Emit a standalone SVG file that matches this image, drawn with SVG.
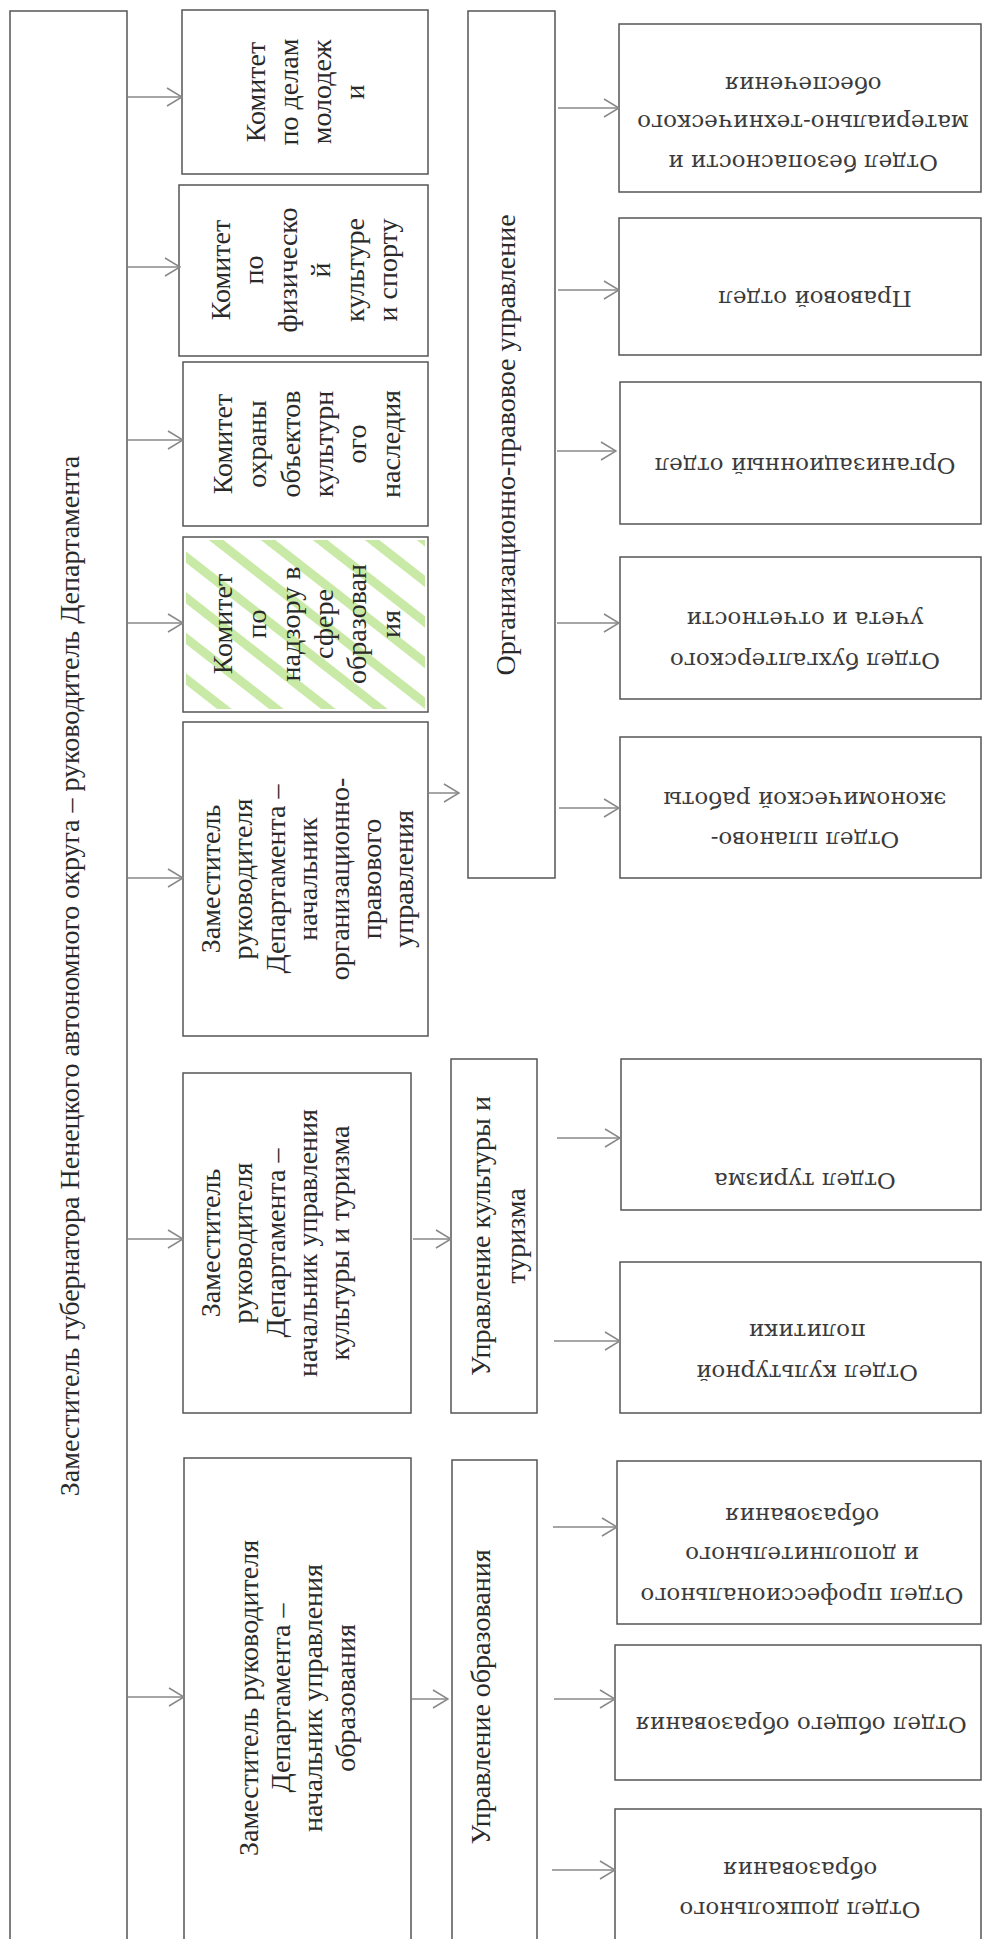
<svg xmlns="http://www.w3.org/2000/svg" width="983" height="1939" viewBox="0 0 983 1939">
<style>
.box{fill:#fff;stroke:#555;stroke-width:1.5}
.t{font-family:"Liberation Serif","Times New Roman",serif;font-size:28px;fill:#2a2a2a;text-anchor:middle}
.r{font-family:"DejaVu Serif",serif;font-size:23px;fill:#3a3a3a;text-anchor:middle}
.c{stroke:#888;stroke-width:1.5;fill:none;marker-end:url(#ah)}
</style>
<defs>
<marker id="ah" viewBox="0 0 17 20" refX="16" refY="10" markerWidth="17" markerHeight="20" orient="auto" markerUnits="userSpaceOnUse">
<path d="M1,1 L16,10 L1,19" fill="none" stroke="#888" stroke-width="1.5"/>
</marker>
<pattern id="hatch" patternUnits="userSpaceOnUse" width="40" height="32" patternTransform="rotate(38)">
<rect x="0" y="0" width="40" height="9" fill="#bfe697" opacity="0.85"/>
</pattern>
</defs>
<rect width="983" height="1939" fill="#fff"/>

<g id="n-head">
<rect class="box" x="10" y="11" width="117" height="1935"/>
<text class="t" font-size="30.5" transform="translate(79,976) rotate(-90)">Заместитель губернатора Ненецкого автономного округа – руководитель Департамента</text>
</g>

<g id="n-youth">
<rect class="box" x="182" y="10" width="246" height="164"/>
<g class="t" transform="translate(0,92)">
<text transform="translate(265,0) rotate(-90)">Комитет</text>
<text transform="translate(298,0) rotate(-90)">по делам</text>
<text transform="translate(331,0) rotate(-90)">молодеж</text>
<text transform="translate(364,0) rotate(-90)">и</text>
</g>
</g>

<g id="n-sport">
<rect class="box" x="179" y="185" width="249" height="171"/>
<g class="t" transform="translate(0,270)">
<text transform="translate(230,0) rotate(-90)">Комитет</text>
<text transform="translate(263,0) rotate(-90)">по</text>
<text transform="translate(297,0) rotate(-90)">физическо</text>
<text transform="translate(330,0) rotate(-90)">й</text>
<text transform="translate(364,0) rotate(-90)">культуре</text>
<text transform="translate(397,0) rotate(-90)">и спорту</text>
</g>
</g>

<g id="n-heritage">
<rect class="box" x="183" y="362" width="245" height="164"/>
<g class="t" transform="translate(0,444)">
<text transform="translate(232,0) rotate(-90)">Комитет</text>
<text transform="translate(266,0) rotate(-90)">охраны</text>
<text transform="translate(300,0) rotate(-90)">объектов</text>
<text transform="translate(333,0) rotate(-90)">культурн</text>
<text transform="translate(366,0) rotate(-90)">ого</text>
<text transform="translate(400,0) rotate(-90)">наследия</text>
</g>
</g>

<g id="n-supervision">
<rect class="box" x="183" y="537" width="245" height="175"/>
<rect x="186" y="540" width="239" height="169" fill="url(#hatch)"/>
<g class="t" transform="translate(0,624)">
<text transform="translate(232,0) rotate(-90)">Комитет</text>
<text transform="translate(266,0) rotate(-90)">по</text>
<text transform="translate(300,0) rotate(-90)">надзору в</text>
<text transform="translate(333,0) rotate(-90)">сфере</text>
<text transform="translate(366,0) rotate(-90)">образован</text>
<text transform="translate(400,0) rotate(-90)">ия</text>
</g>
</g>

<g id="n-dep-org">
<rect class="box" x="183" y="722" width="245" height="314"/>
<g class="t" transform="translate(0,879)">
<text transform="translate(220,0) rotate(-90)">Заместитель</text>
<text transform="translate(252,0) rotate(-90)">руководителя</text>
<text transform="translate(285,0) rotate(-90)">Департамента –</text>
<text transform="translate(317,0) rotate(-90)">начальник</text>
<text transform="translate(349,0) rotate(-90)">организационно-</text>
<text transform="translate(381,0) rotate(-90)">правового</text>
<text transform="translate(413,0) rotate(-90)">управления</text>
</g>
</g>

<g id="n-dep-cult">
<rect class="box" x="183" y="1073" width="228" height="340"/>
<g class="t" transform="translate(0,1243)">
<text transform="translate(220,0) rotate(-90)">Заместитель</text>
<text transform="translate(252,0) rotate(-90)">руководителя</text>
<text transform="translate(285,0) rotate(-90)">Департамента –</text>
<text transform="translate(317,0) rotate(-90)">начальник управления</text>
<text transform="translate(349,0) rotate(-90)">культуры и туризма</text>
</g>
</g>

<g id="n-dep-edu">
<rect class="box" x="184" y="1458" width="227" height="490"/>
<g class="t" transform="translate(0,1698)">
<text transform="translate(258,0) rotate(-90)">Заместитель руководителя</text>
<text transform="translate(290,0) rotate(-90)">Департамента –</text>
<text transform="translate(322,0) rotate(-90)">начальник управления</text>
<text transform="translate(355,0) rotate(-90)">образования</text>
</g>
</g>

<g id="n-orgprav">
<rect class="box" x="468" y="11" width="87" height="867"/>
<text class="t" transform="translate(515,445) rotate(-90)">Организационно-правовое управление</text>
</g>

<g id="n-cult">
<rect class="box" x="451" y="1059" width="86" height="354"/>
<g class="t" transform="translate(0,1236)">
<text transform="translate(490,0) rotate(-90)">Управление культуры и</text>
<text transform="translate(525,0) rotate(-90)">туризма</text>
</g>
</g>

<g id="n-edu">
<rect class="box" x="452" y="1460" width="85" height="488"/>
<text class="t" transform="translate(490,1697) rotate(-90)">Управление образования</text>
</g>

<g id="n-security">
<rect class="box" x="619" y="24" width="362" height="168"/>
<text class="r" transform="translate(803,155) rotate(180)">Отдел безопасности  и</text>
<text class="r" transform="translate(803,115) rotate(180)">материально-технического</text>
<text class="r" transform="translate(803,77) rotate(180)">обеспечения</text>
</g>

<g id="n-legal">
<rect class="box" x="619" y="218" width="362" height="137" stroke-width="2.5"/>
<text class="r" transform="translate(815,291) rotate(180)">Правовой отдел</text>
</g>

<g id="n-organiz">
<rect class="box" x="620" y="382" width="361" height="142"/>
<text class="r" transform="translate(805,458) rotate(180)">Организационный отдел</text>
</g>

<g id="n-account">
<rect class="box" x="620" y="557" width="361" height="142"/>
<text class="r" transform="translate(805,653) rotate(180)">Отдел бухгалтерского</text>
<text class="r" transform="translate(805,612) rotate(180)">учета и отчетности</text>
</g>

<g id="n-plan">
<rect class="box" x="620" y="737" width="361" height="141"/>
<text class="r" transform="translate(805,832) rotate(180)">Отдел планово-</text>
<text class="r" transform="translate(805,792) rotate(180)">экономической работы</text>
</g>

<g id="n-tourism">
<rect class="box" x="621" y="1059" width="360" height="151"/>
<text class="r" transform="translate(805,1173) rotate(180)">Отдел туризма</text>
</g>

<g id="n-culturepol">
<rect class="box" x="620" y="1262" width="361" height="151"/>
<text class="r" transform="translate(807,1365) rotate(180)">Отдел культурной</text>
<text class="r" transform="translate(807,1324) rotate(180)">политики</text>
</g>

<g id="n-prof">
<rect class="box" x="617" y="1461" width="364" height="163"/>
<text class="r" transform="translate(802,1588) rotate(180)">Отдел профессионального</text>
<text class="r" transform="translate(802,1547) rotate(180)">и дополнительного</text>
<text class="r" transform="translate(802,1508) rotate(180)">образования</text>
</g>

<g id="n-general">
<rect class="box" x="615" y="1645" width="366" height="135"/>
<text class="r" transform="translate(801,1717) rotate(180)">Отдел общего образования</text>
</g>

<g id="n-preschool">
<rect class="box" x="615" y="1809" width="366" height="140"/>
<text class="r" transform="translate(800,1902) rotate(180)">Отдел дошкольного</text>
<text class="r" transform="translate(800,1862) rotate(180)">образования</text>
</g>

<g id="connectors">
<path class="c" d="M128,97 H182"/>
<path class="c" d="M128,267 H180"/>
<path class="c" d="M128,440 H183"/>
<path class="c" d="M128,623 H183"/>
<path class="c" d="M128,878 H183"/>
<path class="c" d="M128,1239 H183"/>
<path class="c" d="M128,1697 H184"/>
<path class="c" d="M429,793 H459"/>
<path class="c" d="M413,1239 H451"/>
<path class="c" d="M412,1699 H448"/>
<path class="c" d="M558,108 H619"/>
<path class="c" d="M558,290 H619"/>
<path class="c" d="M557,451 H616"/>
<path class="c" d="M557,623 H619"/>
<path class="c" d="M559,808 H619"/>
<path class="c" d="M557,1138 H620"/>
<path class="c" d="M554,1341 H620"/>
<path class="c" d="M553,1527 H617"/>
<path class="c" d="M554,1699 H615"/>
<path class="c" d="M552,1870 H615"/>
</g>
</svg>
